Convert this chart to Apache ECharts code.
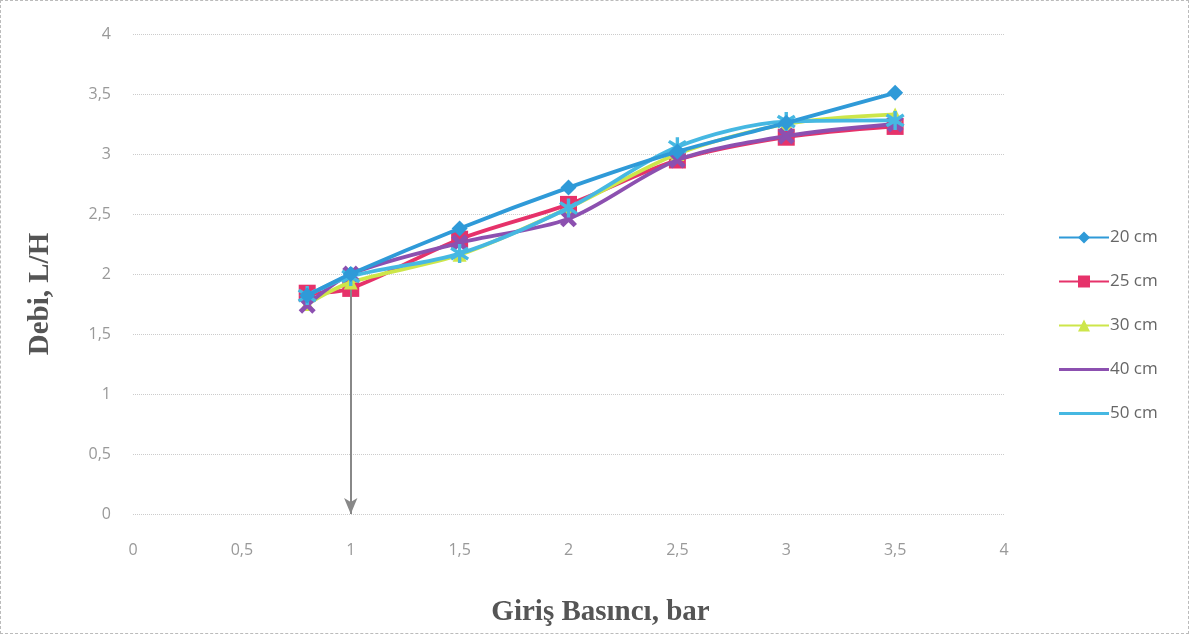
<!DOCTYPE html>
<html><head><meta charset="utf-8">
<script src="https://cdn.jsdelivr.net/npm/echarts@6/dist/echarts.min.js"></script>
<style>html,body{margin:0;padding:0;background:#fff}#c{width:1189px;height:634px;box-sizing:border-box;border:1px dashed #bbb}</style>
</head><body><div id="c"></div>
<script>
const pressure = [0.8, 1, 1.5, 2, 2.5, 3, 3.5];
const seriesNames = ['20 cm', '25 cm', '30 cm', '40 cm', '50 cm'];
const s20 = [1.82, 2.0, 2.38, 2.72, 3.02, 3.26, 3.51];
const s25 = [1.84, 1.88, 2.29, 2.58, 2.95, 3.14, 3.23];
const s30 = [1.75, 1.93, 2.16, 2.55, 3.0, 3.25, 3.33];
const s40 = [1.74, 2.0, 2.26, 2.46, 2.95, 3.15, 3.25];
const s50 = [1.82, 1.98, 2.17, 2.55, 3.06, 3.27, 3.28];
const arrowX = 1, arrowTop = 1.95, arrowBottom = 0;

const colors = ['#2f9ad8', '#e6326a', '#cde64a', '#8c50b0', '#46b8e2'];
const xPath = 'path://M0,2 L2,0 L5,3 L8,0 L10,2 L7,5 L10,8 L8,10 L5,7 L2,10 L0,8 L3,5 Z';
const starPath = 'path://M4.2,0 L5.8,0 L5.8,3.3 L8.6,1.4 L9.5,2.8 L6.6,5 L9.5,7.2 L8.6,8.6 L5.8,6.7 L5.8,10 L4.2,10 L4.2,6.7 L1.4,8.6 L0.5,7.2 L3.4,5 L0.5,2.8 L1.4,1.4 L4.2,3.3 Z';
const symbols = ['diamond', 'rect', 'triangle', xPath, starPath];
const sizes = [16, 17, 14, 17, 19];
const all = [s20, s25, s30, s40, s50];
const fmt = v => String(v).replace('.', ',');
const lineIcon = 'path://M0,0 L50,0 L50,3 L0,3 Z';

const series = all.map((vals, i) => ({
  name: seriesNames[i], type: 'line', smooth: 0.3,
  data: pressure.map((p, j) => [p, vals[j]]),
  symbol: symbols[i], symbolSize: sizes[i],
  lineStyle: {width: 3.8, color: colors[i]},
  itemStyle: {color: colors[i]},
  z: 3 + (i === 0 ? 5 : i)
}));
series.push({
  type: 'line', name: 'arrow', data: [[arrowX, arrowTop], [arrowX, arrowBottom]],
  showSymbol: false, lineStyle: {opacity: 0}, z: 2,
  markLine: {silent: true, symbol: ['none', 'arrow'], symbolSize: [10, 16], label: {show: false},
    lineStyle: {color: '#888', width: 2, type: 'solid'},
    data: [[{coord: [arrowX, arrowTop]}, {coord: [arrowX, arrowBottom]}]]}
});

const chart = echarts.init(document.getElementById('c'));
chart.setOption({
  animation: false,
  color: colors,
  grid: {left: 132, right: 184, top: 33, bottom: 119, containLabel: false, outerBoundsMode: 'none'},
  legend: {
    orient: 'vertical', left: 1052, top: 223, itemGap: 27, itemWidth: 50, itemHeight: 15,
    data: seriesNames.map((n, i) => i >= 3 ? {name: n, icon: lineIcon, itemStyle: {color: colors[i]}} : {name: n}),
    textStyle: {fontFamily: 'Open Sans', fontSize: 17, color: '#666', padding: [0, 0, 0, -4]}
  },
  xAxis: {
    type: 'value', min: 0, max: 4, interval: 0.5,
    axisLine: {show: false}, axisTick: {show: false}, splitLine: {show: false},
    axisLabel: {margin: 28, color: '#999', fontFamily: 'Open Sans', fontSize: 16, formatter: v => fmt(v)},
    name: 'Giriş Basıncı, bar', nameLocation: 'middle', nameGap: 84,
    nameTextStyle: {fontFamily: 'Liberation Serif', fontWeight: 'bold', fontSize: 29, color: '#555', padding: [0, 0, 0, 64]}
  },
  yAxis: {
    type: 'value', min: 0, max: 4, interval: 0.5,
    axisLine: {show: false}, axisTick: {show: false},
    splitLine: {show: true, lineStyle: {color: '#ccc', type: 'dotted', width: 1}},
    axisLabel: {margin: 22, color: '#999', fontFamily: 'Open Sans', fontSize: 16, formatter: v => fmt(v)},
    name: 'Debi, L/H', nameLocation: 'middle', nameGap: 78,
    nameTextStyle: {fontFamily: 'Liberation Serif', fontWeight: 'bold', fontSize: 29, color: '#555', padding: [0, 40, 0, 0]}
  },
  series: series
});
</script></body></html>
